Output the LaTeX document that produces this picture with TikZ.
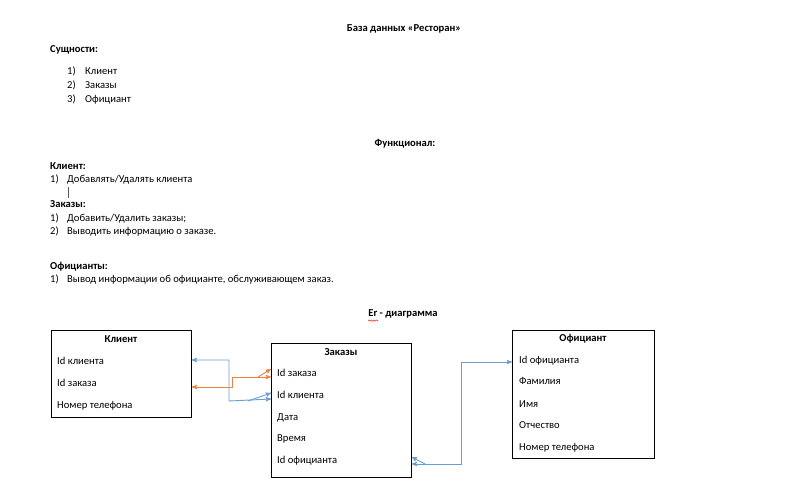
\documentclass[tikz,border=0pt]{standalone}
\usepackage{fontspec}
\setmainfont{Carlito}
\usetikzlibrary{positioning, arrows, decorations.pathmorphing}
\definecolor{linkblue}{RGB}{104,158,210}
\definecolor{linkorange}{RGB}{232,132,66}

\begin{document}
\begin{tikzpicture}[x=1pt, y=-1pt,
  every node/.style={inner sep=0pt, font=\fontsize{10.6}{12}\selectfont},
  txt/.style={anchor=west, text height=7pt, text depth=2pt},
  head/.style={font=\fontsize{10.6}{12}\selectfont\bfseries},
  entity/.style={draw, line width=0.8pt, anchor=north west},
  link/.style={line width=0.9pt, stealth'-stealth'},
  extra/.style={line width=0.9pt, -stealth'}
]
  \useasboundingbox (0,0) rectangle (807,491);

  % text part
  \node[head] (title) at (404,29) {База данных «Ресторан»};
  \node[txt, head] (ent) at (50,50) {Сущности:};
  \node[txt] (n1) at (67,72) {1)};
  \node[txt] (e1) at (85,72) {Клиент};
  \node[txt] (n2) at (67,86) {2)};
  \node[txt] (e2) at (85,86) {Заказы};
  \node[txt] (n3) at (67,100) {3)};
  \node[txt] (e3) at (85,100) {Официант};

  \node[head] (func) at (405,144) {Функционал:};
  \node[txt, head] (fk) at (50,167) {Клиент:};
  \node[txt] (fkn1) at (50,180) {1)};
  \node[txt] (fk1) at (67,180) {Добавлять/Удалять клиента};
  \draw[thin, gray!70!black] (68,187) -- (68,198);
  \node[txt, head] (fz) at (50,205) {Заказы:};
  \node[txt] (fzn1) at (50,219) {1)};
  \node[txt] (fz1) at (67,219) {Добавить/Удалить заказы;};
  \node[txt] (fzn2) at (50,232) {2)};
  \node[txt] (fz2) at (67,232) {Выводить информацию о заказе.};
  \node[txt, head] (fo) at (50,267) {Официанты:};
  \node[txt] (fon1) at (50,280) {1)};
  \node[txt] (fo1) at (67,280) {Вывод информации об официанте, обслуживающем заказ.};

  \node[head] (er) at (403,314) {Er - диаграмма};
  \draw[red, decorate, decoration={snake, amplitude=0.7pt, segment length=2.5pt}]
    (er.base west) ++(0,4) -- ++(10,0);

  % entities
  \node[entity, minimum width=140pt, minimum height=87pt] (klient) at (51,330) {};
  \node[head] at (121,339) {Клиент};
  \node[txt] (k1) at (57,362) {Id клиента};
  \node[txt] (k2) at (57,384) {Id заказа};
  \node[txt] (k3) at (57,406) {Номер телефона};

  \node[entity, minimum width=140pt, minimum height=134pt] (zakazy) at (271,343) {};
  \node[head] at (341,352) {Заказы};
  \node[txt] (z1) at (277,374) {Id заказа};
  \node[txt] (z2) at (277,396) {Id клиента};
  \node[txt] (z3) at (277,418) {Дата};
  \node[txt] (z4) at (277,439) {Время};
  \node[txt] (z5) at (277,461) {Id официанта};

  \node[entity, minimum width=142pt, minimum height=128pt] (ofic) at (512,330) {};
  \node[head] at (583,339) {Официант};
  \node[txt] (o1) at (519,361) {Id официанта};
  \node[txt] (o2) at (519,382) {Фамилия};
  \node[txt] (o3) at (519,405) {Имя};
  \node[txt] (o4) at (519,426) {Отчество};
  \node[txt] (o5) at (519,448) {Номер телефона};

  % links
  \draw[link, linkblue] ([yshift=2pt]klient.east |- k1) -| (229,401)
    -- ([yshift=-3pt]zakazy.west |- z2);
  \draw[extra, linkblue] (248,401) -- ([yshift=3pt]zakazy.west |- z2);
  \draw[link, linkorange] ([yshift=-3pt]klient.east |- k2) -| (232,377)
    -- ([yshift=-3pt]zakazy.west |- z1);
  \draw[extra, linkorange] (258,377) -- ([yshift=5pt]zakazy.west |- z1);
  \draw[link, linkblue] ([yshift=-3pt]zakazy.east |- z5) -| (461,362)
    -- ([yshift=-1pt]ofic.west |- o1);
  \draw[extra, linkblue] (425,464) -- ([yshift=4pt]zakazy.east |- z5);
\end{tikzpicture}
\end{document}
